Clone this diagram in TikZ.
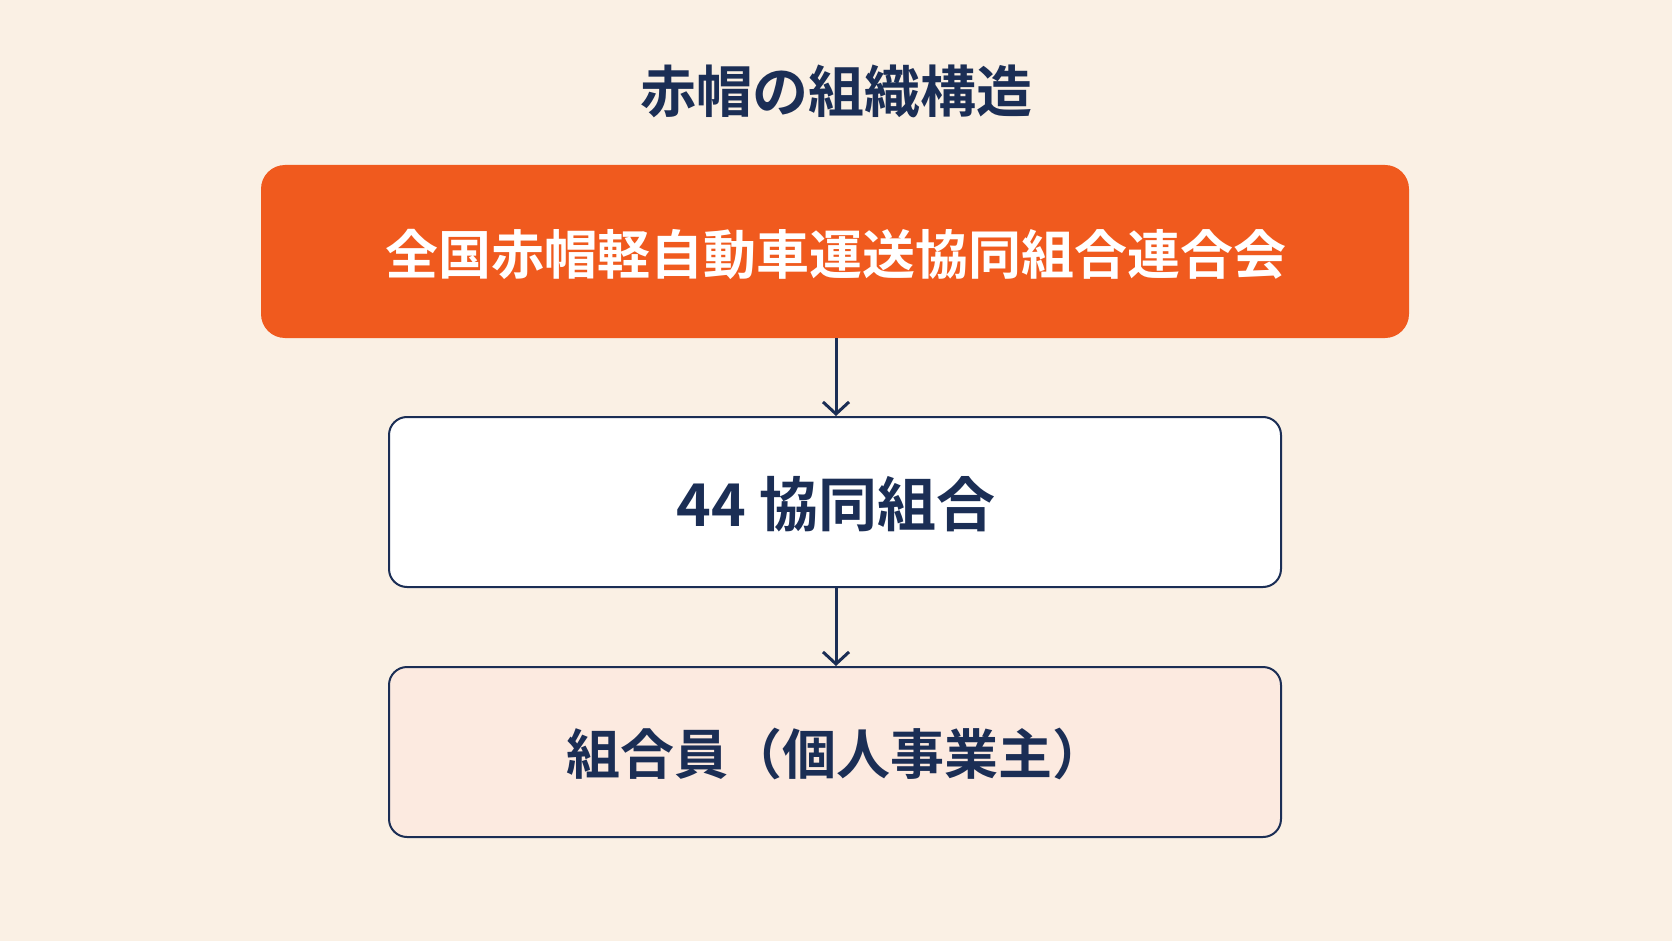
\documentclass[tikz,border=0pt]{standalone}
\usepackage{fontspec}
\newfontfamily\cjk{Noto Sans CJK JP Bold}
\usetikzlibrary{arrows.meta}
\definecolor{bg}{HTML}{FAF0E4}
\definecolor{org}{HTML}{F05A1E}
\definecolor{navy}{HTML}{1B2E55}
\definecolor{pinkf}{HTML}{FCEAE0}
\begin{document}
\begin{tikzpicture}[x=1pt,y=-1pt,
  box/.style={draw=navy,line width=2pt,rounded corners=18pt},
  arr/.style={draw=navy,line width=3pt,-{Straight Barb[length=12pt,width=26pt,line width=3pt]}}]
\fill[bg] (0,0) rectangle (1672,941);
\useasboundingbox (0,0) rectangle (1672,941);
\node[font=\cjk\fontsize{56}{60}\selectfont,text=navy] (title) at (836,91) {赤帽の組織構造};
\fill[org,rounded corners=24pt] (261,165) rectangle (1409,338);
\node[font=\cjk\fontsize{53}{57}\selectfont,text=white] (top) at (836,254) {全国赤帽軽自動車運送協同組合連合会};
\coordinate (topb) at (836,338);
\draw[box,fill=white] (389,417) rectangle (1281,587);
\node[font=\cjk\fontsize{59}{63}\selectfont,text=navy] (mid) at (836,504) {44 協同組合};
\draw[box,fill=pinkf] (389,667) rectangle (1281,837);
\node[font=\cjk\fontsize{54}{58}\selectfont,text=navy] (bot) at (836,754) {組合員（個人事業主）};
\coordinate (midt) at (836,416);
\coordinate (midb) at (836,587);
\coordinate (bott) at (836,666);
\draw[arr] (topb) -- (midt);
\draw[arr] (midb) -- (bott);
\end{tikzpicture}
\end{document}
